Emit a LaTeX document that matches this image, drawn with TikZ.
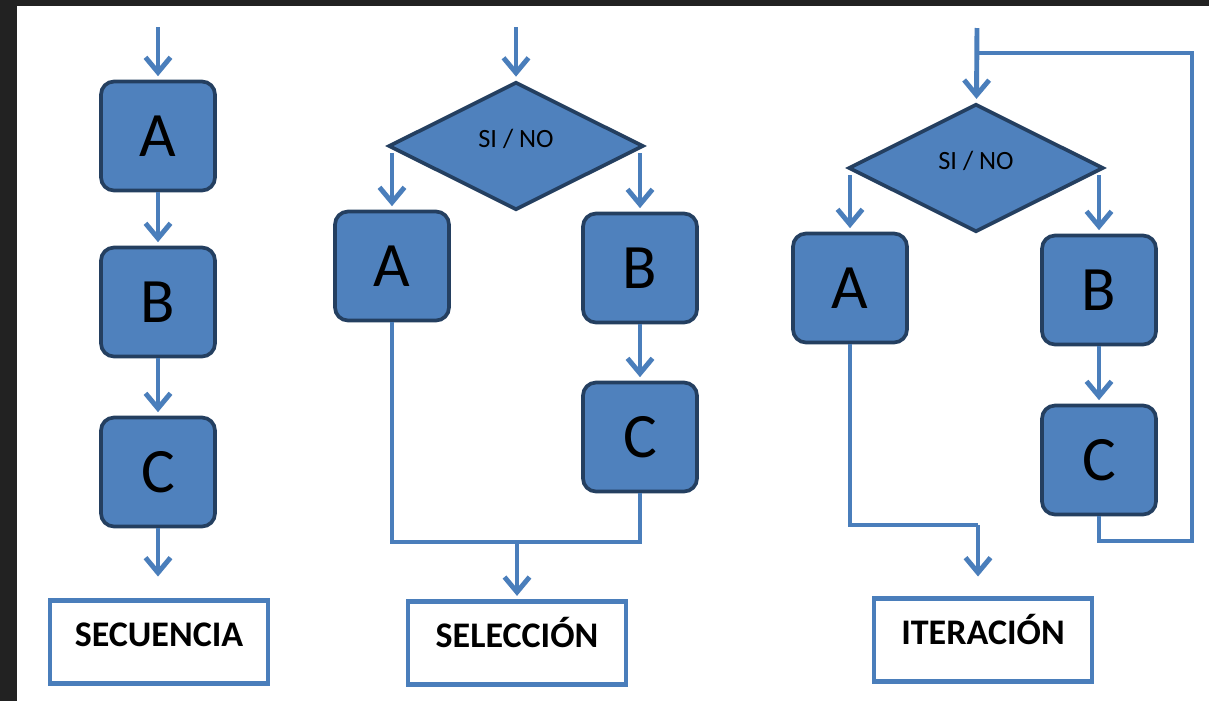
\documentclass[tikz,border=0pt]{standalone}
\usepackage{fontspec}
\setmainfont{Carlito}
\usepackage[usenames,dvipsnames,svgnames,table]{xcolor}
\usepackage{tikz}
\usetikzlibrary{arrows.meta,shapes.geometric}

\definecolor{boxfill}{HTML}{4F81BD}
\definecolor{boxline}{HTML}{243F60}
\definecolor{flowline}{HTML}{4A7EBB}
\definecolor{marco}{HTML}{222222}

\begin{document}
\begin{tikzpicture}[x=0.02cm,y=-0.02cm,
    paso/.style={draw=boxline,fill=boxfill,line width=2.1pt,rounded corners=0.26cm,
        minimum width=2.28cm,minimum height=2.18cm,inner sep=0pt,font=\fontsize{36}{40}\selectfont},
    decision/.style={diamond,draw=boxline,fill=boxfill,line width=2.1pt,inner sep=0pt,
        minimum width=5.1cm,minimum height=2.56cm,text height=0.3cm,text depth=0.26cm,
        font=\fontsize{15}{18}\selectfont},
    titulo/.style={draw=flowline,line width=2.4pt,minimum width=4.36cm,minimum height=1.66cm,
        inner sep=0pt,text height=0.5cm,text depth=0.32cm,font=\fontsize{20.5}{24}\selectfont\bfseries},
    flujo/.style={draw=flowline,line width=2.8pt},
    flecha/.style={flujo,-{Straight Barb[length=0.3cm,width=0.5cm]},shorten >=2pt}]
    \useasboundingbox (0,0) rectangle (1209,701);
    \fill[white] (0,0) rectangle (1209,701);
    \fill[marco] (0,0) rectangle (1209,6);
    \fill[marco] (0,0) rectangle (17,701);

    % secuencia
    \node[paso] (secA) at (158,136) {A};
    \node[paso] (secB) at (158,302) {B};
    \node[paso] (secC) at (158,472) {C};
    \node[titulo] (secT) at (159,642) {SECUENCIA};
    \coordinate (secIn) at (158,27);
    \coordinate (secOut) at (158,580);
    \draw[flecha] (secIn) -- (secA);
    \draw[flecha] (secA) -- (secB);
    \draw[flecha] (secB) -- (secC);
    \draw[flecha] (secC) -- (secOut);

    % seleccion
    \node[decision] (selD) at (516,146) {SI / NO};
    \node[paso] (selA) at (392,266) {A};
    \node[paso] (selB) at (640,268) {B};
    \node[paso] (selC) at (640,437) {C};
    \node[titulo] (selT) at (517,643) {SELECCIÓN};
    \coordinate (selIn) at (516,27);
    \coordinate (selL) at ([yshift=-0.14cm]selD.west);
    \coordinate (selR) at ([yshift=-0.14cm]selD.east);
    \coordinate (selM) at (517,542);
    \draw[flecha] (selIn) -- (selD);
    \draw[flecha] (selL -| selA.north) -- (selA);
    \draw[flecha] (selR -| selB.north) -- (selB);
    \draw[flecha] (selB) -- (selC);
    \draw[flujo] (selA.south) |- (selM) -| (selC.south);
    \draw[flecha] (selM) -- (selT);

    % iteracion
    \node[decision] (iteD) at (976,168) {SI / NO};
    \node[paso] (iteA) at (850,288) {A};
    \node[paso] (iteB) at (1099,290) {B};
    \node[paso] (iteC) at (1099,460) {C};
    \node[titulo] (iteT) at (983,640) {ITERACIÓN};
    \coordinate (iteIn) at (977,28);
    \coordinate (iteL) at ([yshift=-0.14cm]iteD.west);
    \coordinate (iteR) at ([yshift=-0.14cm]iteD.east);
    \coordinate (iteM) at (978,525);
    \coordinate (iteOut) at (978,580);
    \coordinate (lazoB) at (1192,541);
    \coordinate (lazoT) at (1192,53);
    \draw[flecha] (iteIn) -- (iteD);
    \draw[flecha] (iteL -| iteA.north) -- (iteA);
    \draw[flecha] (iteR -| iteB.north) -- (iteB);
    \draw[flecha] (iteB) -- (iteC);
    \draw[flujo] (iteC.south) |- (lazoB) -- (lazoT) -- (lazoT -| iteIn);
    \draw[flujo] (iteA.south) |- (iteM);
    \draw[flecha] (iteM) -- (iteOut);
\end{tikzpicture}
\end{document}
